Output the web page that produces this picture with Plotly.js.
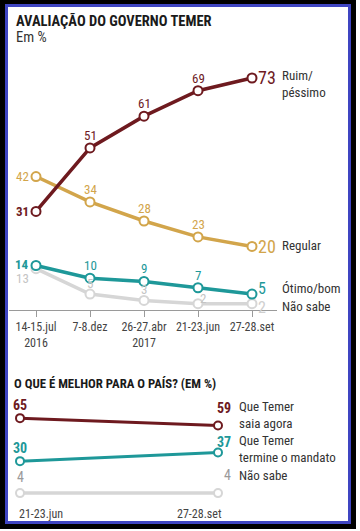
<!DOCTYPE html>
<html>
<head>
<meta charset="utf-8">
<script src="https://cdn.plot.ly/plotly-3.0.1.min.js"></script>
<style>
html,body{margin:0;padding:0;background:#fff;}
#frame{position:absolute;left:0;top:0;width:346px;height:520px;border:solid #000;border-width:4px 5px 5px 5px;}
#inner{position:absolute;left:0;top:0;width:340px;height:514px;border:3px solid #3f45c2;background:#fff;}
#chart{position:absolute;left:0;top:0;width:360px;height:531px;}
</style>
</head>
<body>
<div id="frame"><div id="inner"></div></div>
<div id="chart"></div>
<script>
// ---- Chart 1 data ----
const periods = ["14-15.jul<br>2016", "7-8.dez", "26-27.abr<br>2017", "21-23.jun", "27-28.set"];
const ruim = [31, 51, 61, 69, 73];
const regular = [42, 34, 28, 23, 20];
const otimo = [14, 10, 9, 7, 5];
const naoSabe = [13, 5, 3, 2, 2];
const seriesNames1 = ["Ruim/<br>péssimo", "Regular", "Ótimo/bom", "Não sabe"];

// ---- Chart 2 data ----
const periods2 = ["21-23.jun", "27-28.set"];
const saia = [65, 59];
const termine = [30, 37];
const naoSabe2 = [4, 4];
const seriesNames2 = ["Que Temer<br>saia agora", "Que Temer<br>termine o mandato", "Não sabe"];

const W = 360, H = 531;
const FONT = "Roboto Condensed, Liberation Sans Narrow, Roboto, sans-serif";
const cRuim = "#6e1a1f", cReg = "#d2a54b", cOti = "#1e9899", cNs = "#d6d6d6";
const px = v => v / W, py = v => 1 - v / H;

const idx = periods.map((_, i) => i);

function lineTrace(y, color, xa, ya, width, msize, xs) {
  return {
    x: xs || idx, y: y, xaxis: xa, yaxis: ya, type: "scatter", mode: "lines+markers",
    line: {color: color, width: width}, cliponaxis: false, hoverinfo: "none",
    marker: {symbol: "circle", size: msize, color: "#fff", line: {color: color, width: 2}}
  };
}

const traces = [
  lineTrace(naoSabe, cNs, "x", "y", 3.5, 9),
  lineTrace(otimo, cOti, "x", "y", 3.5, 9),
  lineTrace(regular, cReg, "x", "y", 3.5, 9),
  lineTrace(ruim, cRuim, "x", "y", 3.5, 9),
  lineTrace(naoSabe2, cNs, "x2", "y2", 3.5, 8, [0, 1]),
  lineTrace(termine, cOti, "x2", "y2", 3, 8, [0, 1]),
  lineTrace(saia, cRuim, "x2", "y2", 3, 8, [0, 1])
];

const anns = [];
function A(o) {
  anns.push(Object.assign({showarrow: false, yanchor: "middle", xanchor: "center",
    font: {family: FONT, size: 12, color: "#333"}}, o));
}
function dataLabels(vals, color, firstOpts, midOpts, lastColor, lastShift, lastSize) {
  vals.forEach((v, i) => {
    let o = {xref: "x", yref: "y", x: i, y: v, text: String(v), font: {family: FONT, size: 13, color: color}};
    if (i === 0) Object.assign(o, {xanchor: "right", xshift: -5}, firstOpts || {});
    else if (i === vals.length - 1) Object.assign(o, {xanchor: "left", xshift: 4, yshift: lastShift || 0,
      font: {family: FONT, size: lastSize || 18, color: lastColor || color}});
    else Object.assign(o, {yanchor: "bottom", yshift: 3}, (midOpts && midOpts[i]) || {});
    A(o);
  });
}
dataLabels(ruim, cRuim, {font: {family: FONT, size: 13, color: cRuim, weight: "bold"}});
dataLabels(regular, cReg, {});
dataLabels(otimo, cOti, {font: {family: FONT, size: 13, color: cOti, weight: "bold"}, yshift: 1}, null, null, 6, 16);
dataLabels(naoSabe, "#c4c4c4", {yshift: -10}, {1: {yshift: 1}, 2: {yshift: 1}, 3: {yshift: -4, xshift: 5}}, "#cfcfcf", -4, 16);

// series names chart 1
const nameY1 = [ruim[4], regular[4], otimo[4], naoSabe[4]];
const nameShift = [-6, 1, 6, -3];
seriesNames1.forEach((n, i) => {
  A({xref: "paper", yref: "y", x: px(280), y: nameY1[i], yshift: nameShift[i], xanchor: "left", text: n,
     font: {family: FONT, size: 13, color: "#333"}, align: "left"});
});

// titles
A({xref: "paper", yref: "paper", x: px(14), y: py(21), xanchor: "left", text: "<b>AVALIAÇÃO DO GOVERNO TEMER</b>",
   font: {family: FONT, size: 14.5, color: "#1a1a1a"}});
A({xref: "paper", yref: "paper", x: px(14), y: py(38), xanchor: "left", text: "Em %",
   font: {family: FONT, size: 14.5, color: "#333"}});
A({xref: "paper", yref: "paper", x: px(12), y: py(383), xanchor: "left", text: "<b>O QUE É MELHOR PARA O PAÍS? (EM %)</b>",
   font: {family: FONT, size: 12.8, color: "#1a1a1a"}});

// chart 2 labels
const vals2 = [saia, termine, naoSabe2];
const cols2 = [cRuim, cOti, "#9a9a9a"];
const firstShift2 = [13, 13, 16];
const lastShift2 = [18, 11, 18];
vals2.forEach((vals, k) => {
  A({xref: "x2", yref: "y2", x: 0, y: vals[0], yshift: firstShift2[k], text: String(vals[0]),
     font: {family: FONT, size: 14, color: cols2[k], weight: k < 2 ? "bold" : "normal"}});
  A({xref: "x2", yref: "y2", x: 1, y: vals[1], yshift: lastShift2[k], xanchor: "right", xshift: 15, text: String(vals[1]),
     font: {family: FONT, size: 14, color: cols2[k], weight: k < 2 ? "bold" : "normal"}});
  A({xref: "paper", yref: "y2", x: px(237), y: vals[1], yshift: lastShift2[k] - (k < 2 ? 7 : 0), xanchor: "left", align: "left",
     text: seriesNames2[k], font: {family: FONT, size: 13, color: "#333"}});
});
A({xref: "x2", yref: "paper", x: 0, y: py(514), xanchor: "left", xshift: -3, text: periods2[0], font: {family: FONT, size: 12, color: "#444"}});
A({xref: "x2", yref: "paper", x: 1, y: py(514), xanchor: "right", xshift: 6, text: periods2[1], font: {family: FONT, size: 12, color: "#444"}});

// axis geometry
const y1Scale = (310 - 78) / 73;
const y2Scale = (461 - 418) / 35;
const layout = {
  width: W, height: H, margin: {l: 0, r: 0, t: 0, b: 0},
  paper_bgcolor: "rgba(0,0,0,0)", plot_bgcolor: "rgba(0,0,0,0)",
  showlegend: false,
  xaxis: {domain: [px(9), px(277)], range: [(9 - 36) / 54, (277 - 36) / 54], anchor: "y",
          tickvals: idx, ticktext: periods, ticks: "outside", ticklen: 6, tickcolor: "#9a9a9a", tickangle: 0,
          showline: true, linecolor: "#9a9a9a", linewidth: 1, showgrid: false, zeroline: false,
          tickfont: {family: FONT, size: 12, color: "#444"}, fixedrange: true},
  yaxis: {domain: [py(310), py(60)], range: [0, (310 - 60) / y1Scale], visible: false, fixedrange: true},
  xaxis2: {domain: [px(20), px(218)], range: [0, 1], anchor: "y2", visible: false, fixedrange: true},
  yaxis2: {domain: [py(498), py(400)], range: [0, (498 - 400) / y2Scale], visible: false, fixedrange: true},
  annotations: anns
};
Plotly.newPlot("chart", traces, layout, {displayModeBar: false, staticPlot: true});
</script>
</body>
</html>
